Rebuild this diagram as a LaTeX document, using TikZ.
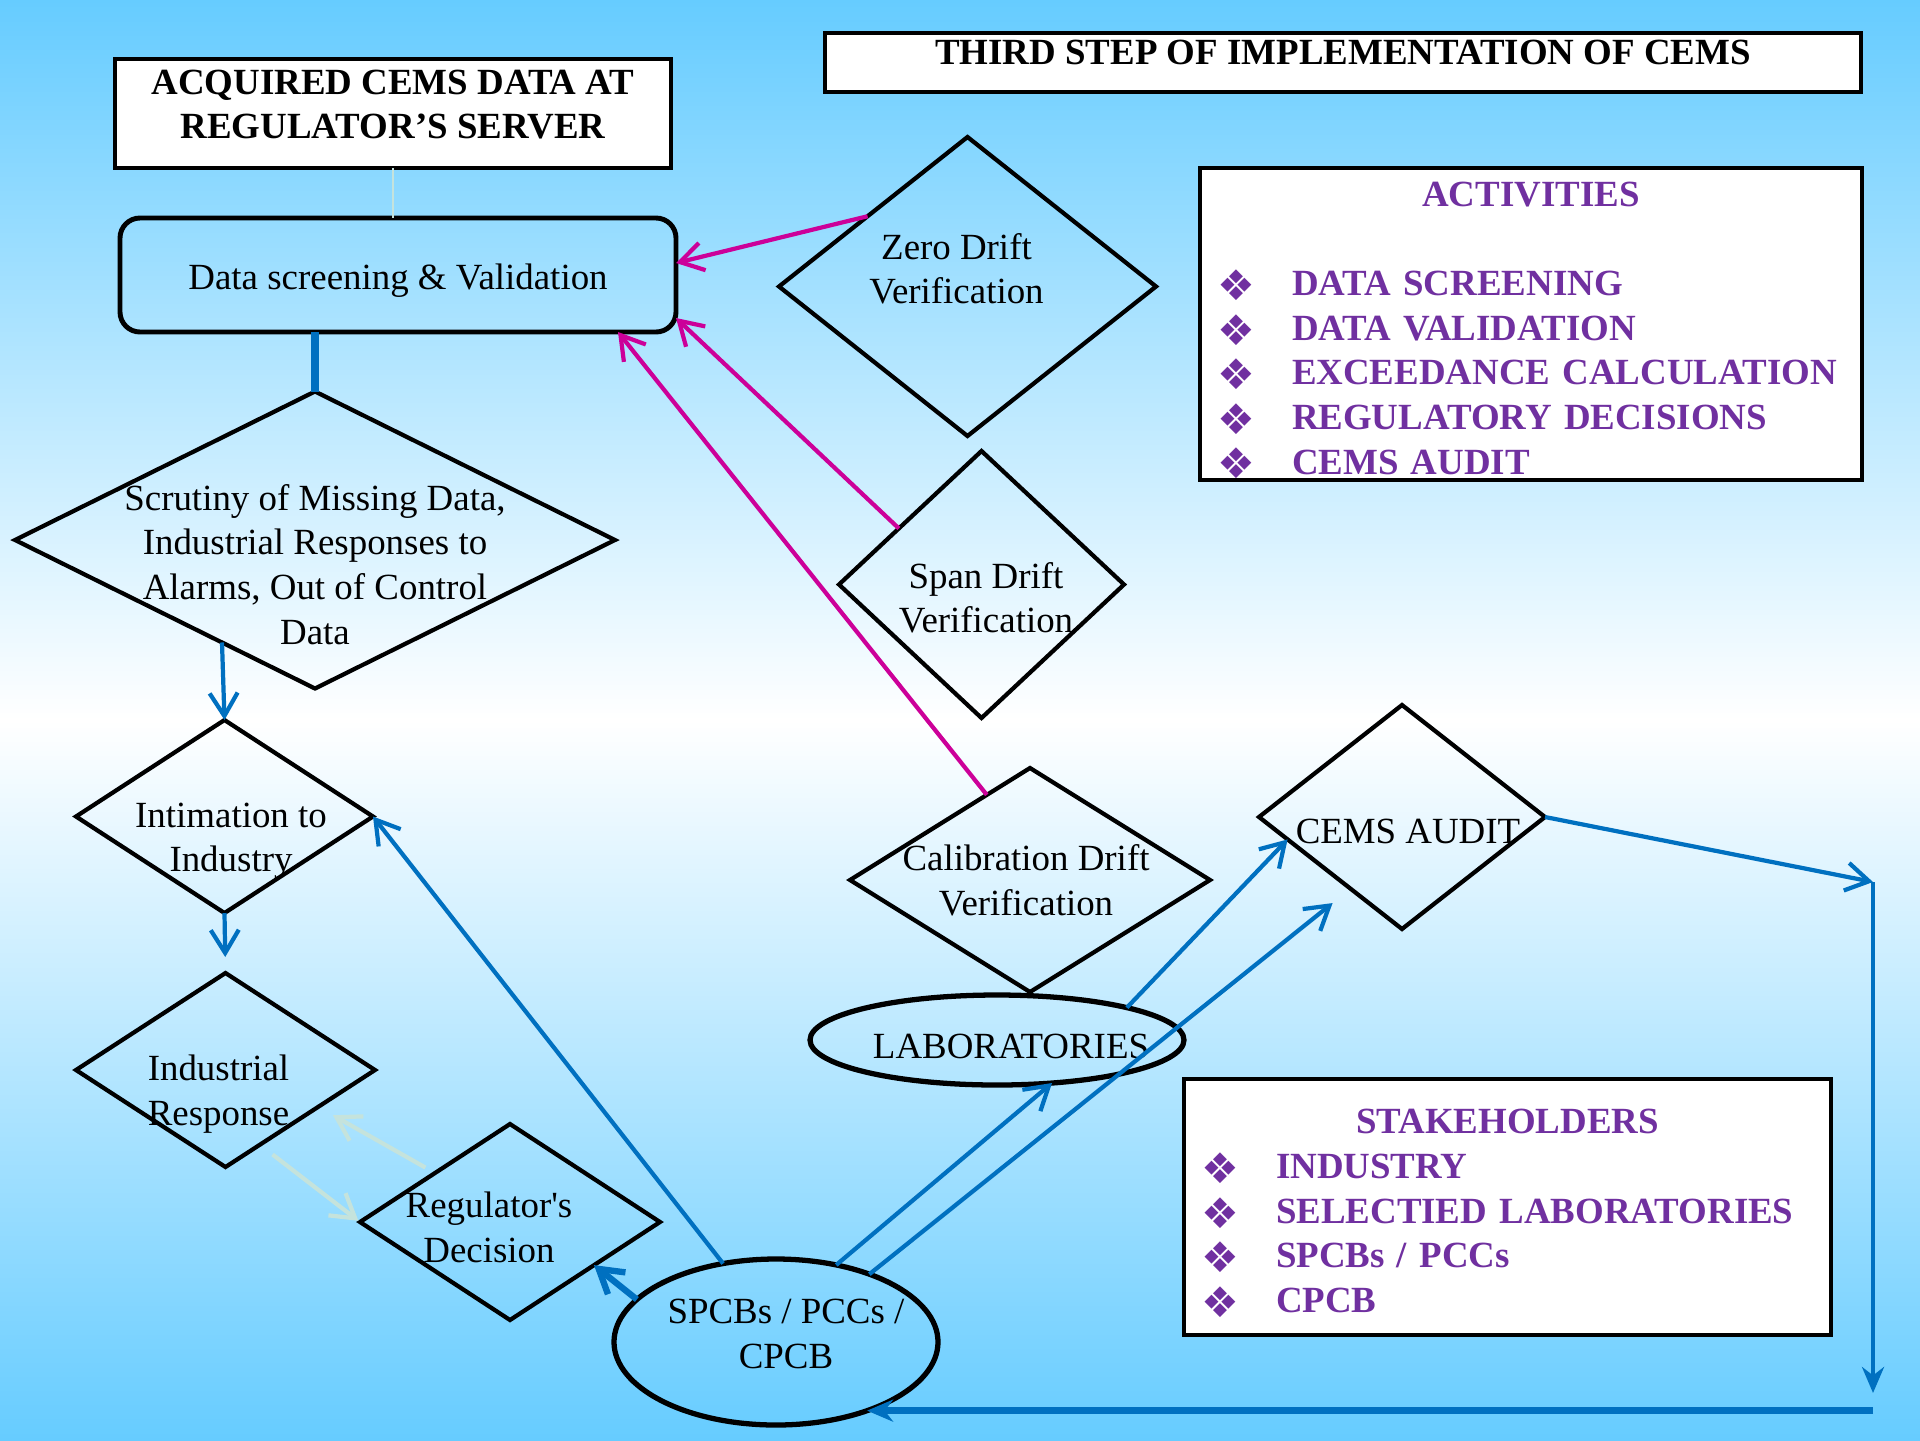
\documentclass[tikz,border=0pt]{standalone}
\usepackage{fontspec}
\setmainfont{Liberation Serif}
\newfontfamily\symfont{DejaVu Sans}
\usetikzlibrary{arrows.meta, shapes.geometric, calc}

\definecolor{skyblue}{HTML}{66CCFF}
\definecolor{flowblue}{HTML}{0070C0}
\definecolor{driftpink}{HTML}{CC0099}
\definecolor{listpurple}{HTML}{7030A0}
\definecolor{faint}{HTML}{C5E3DC}

% text that takes no room in its shape, moved by #1 (right) and #2 (up)
\newcommand{\dtext}[3]{\makebox[0pt]{\kern#1\relax\smash{\raisebox{\dimexpr#2-0.25em-1pt\relax}{\begin{tabular}{@{}c@{}}#3\end{tabular}}}\kern-\dimexpr#1\relax}}
\newcommand{\bul}{\makebox[0.67cm][l]{\kern-0.08cm\smash{\raisebox{-1.4pt}{\symfont\fontsize{12}{12}\selectfont ❖}}}}

\begin{document}
\begin{tikzpicture}[
    every node/.style={font=\fontsize{10.5}{12.7}\selectfont, inner sep=0pt, outer sep=0pt},
    dia/.style={diamond, draw, line width=1.2pt},
    oval/.style={ellipse, draw, line width=1.5pt},
    whitebox/.style={rectangle, draw, fill=white, line width=1.4pt},
    listbox/.style={whitebox, anchor=north west, align=left, inner xsep=0.25cm, text=listpurple, font=\fontsize{10.5}{12.7}\selectfont\bfseries},
    flow/.style={draw=flowblue, line width=1.2pt, -{Straight Barb[length=2.3mm, width=2.8mm]}},
    check/.style={draw=driftpink, line width=1.2pt, -{Straight Barb[length=2.3mm, width=2.8mm]}},
    faintflow/.style={draw=faint, line width=1.2pt, -{Straight Barb[length=2.3mm, width=2.8mm]}},
    loopback/.style={draw=flowblue, -{Stealth[length=2.6mm, width=2.2mm]}}
]
\shade[top color=skyblue, bottom color=skyblue, middle color=white] (0,0) rectangle (19.2,-14.4);
\useasboundingbox (0,0) rectangle (19.2,-14.4);

% boxes
\node[whitebox, minimum width=10.36cm, minimum height=0.59cm] (ttl) at (13.43,-0.625)
    {\bfseries\dtext{0cm}{0.1cm}{THIRD STEP OF IMPLEMENTATION OF CEMS}};
\node[whitebox, minimum width=5.56cm, minimum height=1.09cm] (acq) at (3.93,-1.135)
    {\bfseries\dtext{0cm}{0.09cm}{ACQUIRED CEMS DATA AT\\REGULATOR’S SERVER}};
\node[draw, rounded corners=0.2cm, line width=1.4pt, minimum width=5.56cm, minimum height=1.14cm] (dsv) at (3.98,-2.75)
    {\dtext{0cm}{-0.02cm}{Data screening \& Validation}};

% diamonds
\node[dia, minimum width=6cm, minimum height=2.97cm] (scr) at (3.15,-5.40)
    {\dtext{0cm}{-0.25cm}{Scrutiny of Missing Data,\\Industrial Responses to\\Alarms, Out of Control\\Data}};
\node[dia, minimum width=2.97cm, minimum height=1.93cm] (int) at (2.245,-8.165)
    {\dtext{0.065cm}{-0.21cm}{Intimation to\\Industry}};
\node[dia, minimum width=2.99cm, minimum height=1.94cm] (ind) at (2.255,-10.70)
    {\dtext{-0.07cm}{-0.21cm}{Industrial\\Response}};
\node[dia, minimum width=3cm, minimum height=1.96cm] (reg) at (5.10,-12.22)
    {\dtext{-0.21cm}{-0.06cm}{Regulator\textquotesingle s\\Decision}};
\node[dia, minimum width=3.77cm, minimum height=2.99cm] (zero) at (9.675,-2.865)
    {\dtext{-0.11cm}{0.17cm}{Zero Drift\\Verification}};
\node[dia, minimum width=2.85cm, minimum height=2.67cm] (span) at (9.815,-5.845)
    {\dtext{0.045cm}{-0.14cm}{Span Drift\\Verification}};
\node[dia, minimum width=3.6cm, minimum height=2.24cm] (cal) at (10.30,-8.80)
    {\dtext{-0.04cm}{-0.01cm}{Calibration Drift\\Verification}};
\node[dia, minimum width=2.86cm, minimum height=2.24cm] (aud) at (14.02,-8.17)
    {\dtext{0.06cm}{-0.14cm}{CEMS AUDIT}};

% ellipses
\node[oval, minimum width=3.74cm, minimum height=0.9cm] (lab) at (9.97,-10.40)
    {\dtext{0.14cm}{-0.06cm}{LABORATORIES}};
\node[oval, minimum width=3.24cm, minimum height=1.66cm] (spc) at (7.76,-13.42)
    {\dtext{0.1cm}{0.08cm}{SPCBs / PCCs /\\CPCB}};

% lists
\node[listbox, text width=6.12cm, minimum height=3.12cm] (act) at (12.00,-1.68)
    {\rule{0pt}{9.3pt}\makebox[6.12cm]{ACTIVITIES}\\[12.7pt]
     \bul DATA SCREENING\\
     \bul DATA VALIDATION\\
     \bul EXCEEDANCE CALCULATION\\
     \bul REGULATORY DECISIONS\\
     \bul CEMS AUDIT};
\node[listbox, text width=5.97cm, minimum height=2.56cm] (stk) at (11.84,-10.79)
    {\rule{0pt}{9.3pt}\makebox[5.97cm]{STAKEHOLDERS}\\
     \bul INDUSTRY\\
     \bul SELECTIED LABORATORIES\\
     \bul SPCBs / PCCs\\
     \bul CPCB};

% connectors
\draw[faint, line width=0.7pt] (acq.south) -- (acq.south |- dsv.north);
\draw[flowblue, line width=2pt] (scr.north |- dsv.south) -- (scr.north);
\draw[flow] ($(scr.south)!0.31!(scr.west)$) -- (int.north);
\draw[flow, shorten >=0.16cm] (int.south) -- (ind.north);
\draw[faintflow, shorten <=0.11cm, shorten >=0.17cm] ($(reg.west)!0.5!(reg.north)$) -- ($(ind.south)!0.62!(ind.east)$);
\draw[faintflow, shorten <=0.16cm, shorten >=0.02cm] ($(ind.south)!0.23!(ind.east)$) -- (reg.west);

\draw[check] ($(zero.west)!0.47!(zero.north)$) -- ([yshift=0.12cm]dsv.east);
\draw[check] ($(span.west)!0.42!(span.north)$) -- ([yshift=0.14cm]dsv.south east);
\draw[check] ($(cal.west)!0.76!(cal.north)$) -- ([xshift=-0.58cm]dsv.south east);

\draw[flow, line width=1.8pt] (spc.163) -- ($(reg.south)!0.56!(reg.east)$);
\draw[flow] (spc.124) -- (int.east);
\draw[flow] (spc.52) -- (lab.322);
\draw[flow, shorten >=0.23cm] (spc.36) -- ($(aud.west)!0.64!(aud.south)$);
\draw[flow] (lab.14) -- ($(aud.west)!0.2!(aud.south)$);

\coordinate (cr) at (18.73,-8.82);
\coordinate (cb) at (18.73,-13.93);
\draw[flow] (aud.east) -- (cr);
\draw[loopback, line width=1.4pt] (cr) -- (cb);
\draw[loopback, line width=1.8pt] (cr |- spc.-37.5) -- (spc.-37.5);
\end{tikzpicture}
\end{document}
